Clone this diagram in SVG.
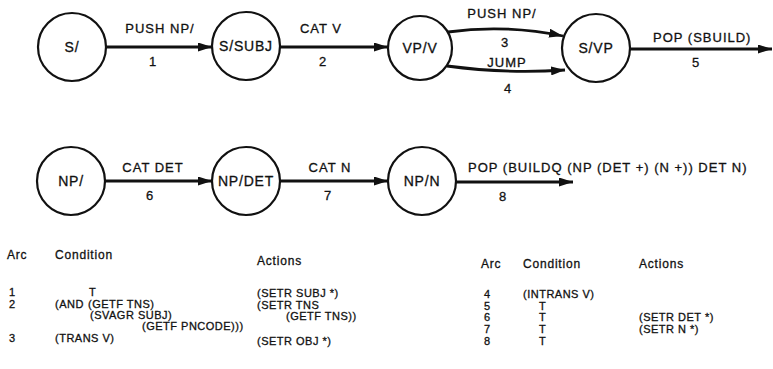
<svg xmlns="http://www.w3.org/2000/svg" width="773" height="369" viewBox="0 0 773 369">
<style>
text{font-family:"Liberation Sans",Arial,sans-serif;fill:#111;stroke:#111;stroke-width:0.3;}
.node circle{fill:#fff;stroke:#111;stroke-width:2.2;}
.node text{font-size:14px;letter-spacing:0.8px;text-anchor:middle;}
.arc{fill:none;stroke:#111;stroke-width:2.8;marker-end:url(#ah);}
.lbl{font-size:13px;letter-spacing:1px;text-anchor:middle;}
.lbs{font-size:13px;letter-spacing:1px;}
.th{font-size:12px;letter-spacing:0.8px;}
.td{font-size:11px;letter-spacing:0.5px;}
</style>
<defs>
<marker id="ah" viewBox="0 0 14 9" refX="14" refY="4.5" markerWidth="14" markerHeight="9" markerUnits="userSpaceOnUse" orient="auto">
<path d="M0,0 L14,4.5 L0,9 Z" fill="#111"/>
</marker>
</defs>
<g id="connectors">
<path class="arc" d="M106,47 L212,47"/>
<path class="arc" d="M280,47 L388,47"/>
<path class="arc" d="M448,32 Q505,24 563,36"/>
<path class="arc" d="M447,66 Q505,74 565,70"/>
<path class="arc" d="M630,49 L772,49"/>
<path class="arc" d="M105,181 L212,181"/>
<path class="arc" d="M280,181 L388,181"/>
<path class="arc" d="M456,182 L573,182"/>
<text class="lbl" x="160" y="33">PUSH NP/</text>
<text class="lbl" x="153" y="66">1</text>
<text class="lbl" x="321" y="33">CAT V</text>
<text class="lbl" x="323" y="66">2</text>
<text class="lbl" x="502" y="18">PUSH NP/</text>
<text class="lbl" x="505" y="47">3</text>
<text class="lbl" x="507" y="67">JUMP</text>
<text class="lbl" x="508" y="93">4</text>
<text class="lbs" x="653" y="42">POP (SBUILD)</text>
<text class="lbl" x="696" y="67">5</text>
<text class="lbl" x="153" y="172">CAT DET</text>
<text class="lbl" x="150" y="200">6</text>
<text class="lbl" x="330" y="172">CAT N</text>
<text class="lbl" x="328" y="200">7</text>
<text class="lbs" x="468" y="172">POP (BUILDQ (NP (DET +) (N +)) DET N)</text>
<text class="lbl" x="503" y="201">8</text>
</g>
<g id="n-S" class="node"><circle cx="72" cy="47" r="34"/><text x="72" y="52">S/</text></g>
<g id="n-SSUBJ" class="node"><circle cx="246" cy="46" r="34"/><text x="246" y="51">S/SUBJ</text></g>
<g id="n-VPV" class="node"><circle cx="420" cy="48" r="32"/><text x="420" y="53">VP/V</text></g>
<g id="n-SVP" class="node"><circle cx="596" cy="48" r="34"/><text x="596" y="53">S/VP</text></g>
<g id="n-NP" class="node"><circle cx="71" cy="181" r="34"/><text x="71" y="186">NP/</text></g>
<g id="n-NPDET" class="node"><circle cx="246" cy="181" r="34"/><text x="246" y="186">NP/DET</text></g>
<g id="n-NPN" class="node"><circle cx="422" cy="181" r="34"/><text x="422" y="186">NP/N</text></g>
<g id="table">
<text class="th" x="7" y="259">Arc</text>
<text class="th" x="55" y="259">Condition</text>
<text class="th" x="257" y="265">Actions</text>
<text class="td" x="9" y="296">1</text>
<text class="td" x="89" y="296">T</text>
<text class="td" x="257" y="297">(SETR SUBJ *)</text>
<text class="td" x="9" y="308">2</text>
<text class="td" x="55" y="308">(AND</text>
<text class="td" x="88" y="308">(GETF TNS)</text>
<text class="td" x="257" y="309">(SETR TNS</text>
<text class="td" x="90" y="319">(SVAGR SUBJ)</text>
<text class="td" x="286" y="320">(GETF TNS))</text>
<text class="td" x="142" y="330">(GETF PNCODE)))</text>
<text class="td" x="9" y="342">3</text>
<text class="td" x="55" y="342">(TRANS V)</text>
<text class="td" x="257" y="345">(SETR OBJ *)</text>
<text class="th" x="481" y="268">Arc</text>
<text class="th" x="523" y="268">Condition</text>
<text class="th" x="639" y="268">Actions</text>
<text class="td" x="484" y="298">4</text>
<text class="td" x="523" y="298">(INTRANS V)</text>
<text class="td" x="484" y="310">5</text>
<text class="td" x="539" y="310">T</text>
<text class="td" x="484" y="321">6</text>
<text class="td" x="539" y="321">T</text>
<text class="td" x="639" y="321">(SETR DET *)</text>
<text class="td" x="484" y="333">7</text>
<text class="td" x="539" y="333">T</text>
<text class="td" x="639" y="333">(SETR N *)</text>
<text class="td" x="484" y="345">8</text>
<text class="td" x="539" y="345">T</text>
</g>
</svg>
